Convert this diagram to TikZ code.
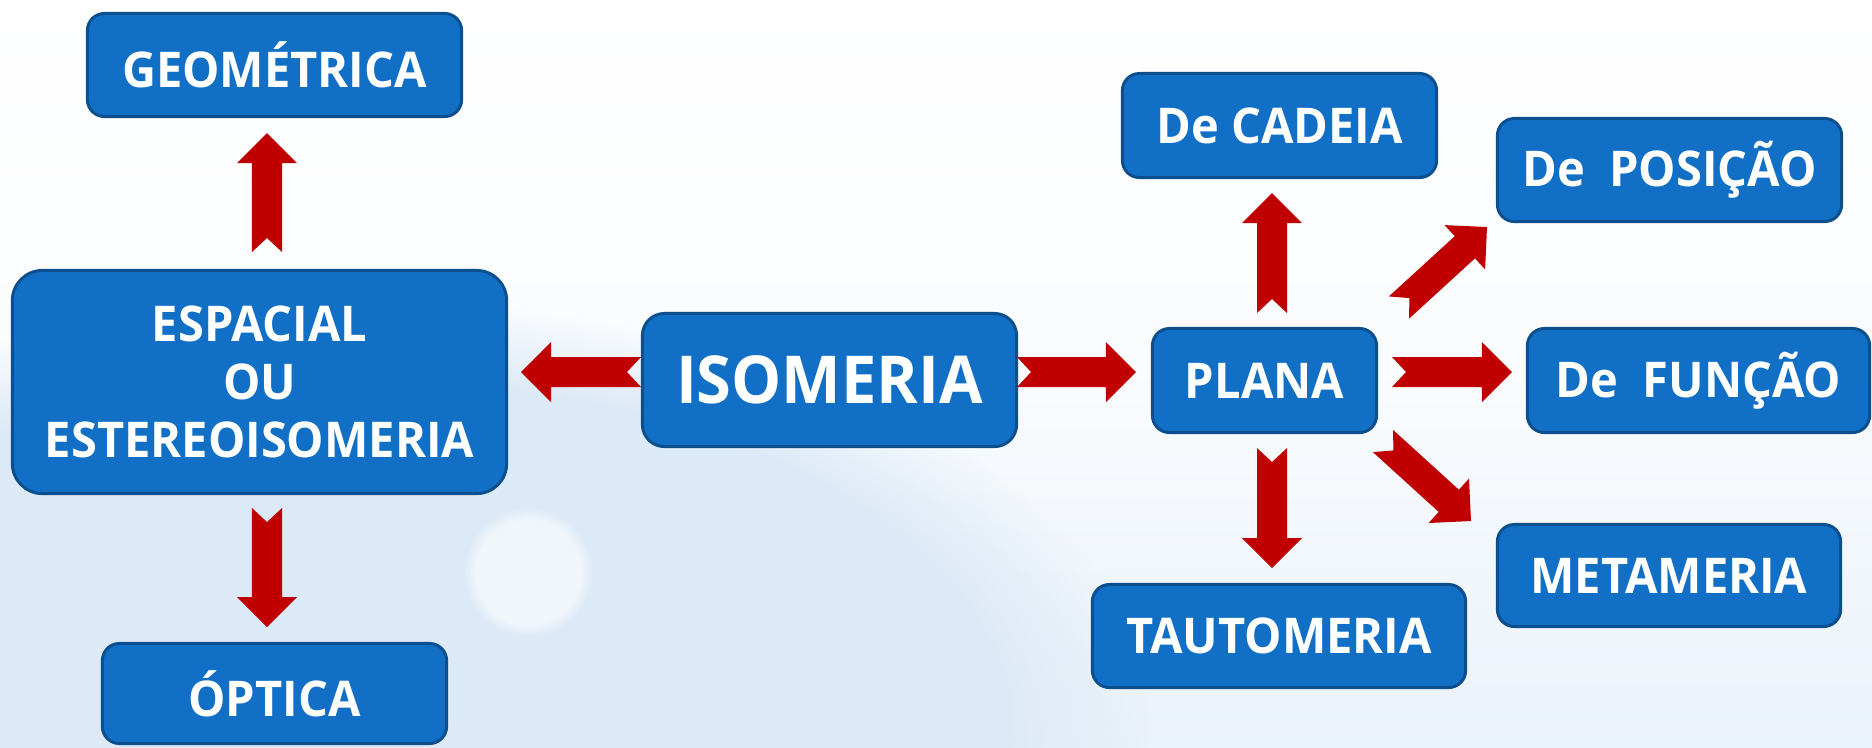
\documentclass[tikz,border=0pt]{standalone}
\usepackage{fontspec}
\setmainfont{Open Sans}[FakeStretch=0.955]
\usetikzlibrary{calc,fadings}
\definecolor{boxfill}{HTML}{1170C6}
\definecolor{boxline}{HTML}{0C4F8E}
\definecolor{arrowred}{HTML}{C00000}
\definecolor{bgblue}{HTML}{DCE9F6}
\tikzset{
  box/.style={draw=boxline, fill=boxfill, line width=0.03cm, rounded corners=0.17cm,
    text=white, font=\fontsize{14}{16.6}\selectfont\bfseries, align=center, inner sep=0pt},
  bigtext/.style={font=\fontsize{18.8}{21}\selectfont\bfseries},
}
% notched block arrow from tail coordinate #1 to tip coordinate #2
\newcommand\notcharr[2]{%
  \coordinate (nh) at ($(#2)!0.30cm!(#1)$);
  \fill[arrowred] ($(#1)!0.15cm!90:(#2)$) -- ($(nh)!0.15cm!90:(#2)$)
    -- ($(nh)!0.30cm!90:(#2)$) -- (#2) -- ($(nh)!0.30cm!-90:(#2)$)
    -- ($(nh)!0.15cm!-90:(#2)$) -- ($(#1)!0.15cm!-90:(#2)$)
    -- ($(#1)!0.14cm!(#2)$) -- cycle;}
\begin{document}
\begin{tikzpicture}[x=0.01cm,y=-0.01cm]
\useasboundingbox (0,0) rectangle (1872,747);
\shade[top color=white, bottom color=bgblue!60, middle color=white!85!bgblue] (0,0) rectangle (1872,747);
\fill[bgblue, path fading=circle with fuzzy edge 20 percent] (350,720) ellipse (800 and 420);
\fill[white, opacity=0.6, path fading=circle with fuzzy edge 20 percent] (528,572) circle (65);

% arrow end points
\coordinate (gA) at (267,252);  \coordinate (gB) at (267,133);
\coordinate (oA) at (267,508);  \coordinate (oB) at (267,627);
\coordinate (lA) at (641,372);  \coordinate (lB) at (521,372);
\coordinate (rA) at (1017,372); \coordinate (rB) at (1136,372);
\coordinate (cA) at (1272,313); \coordinate (cB) at (1272,193);
\coordinate (tA) at (1272,448); \coordinate (tB) at (1272,568);
\coordinate (fA) at (1392,372); \coordinate (fB) at (1512,372);
\coordinate (pA) at (1399,307.5); \coordinate (pB) at (1487,227);
\coordinate (mA) at (1383,441); \coordinate (mB) at (1471,521);

\notcharr{gA}{gB}
\notcharr{oA}{oB}
\notcharr{lA}{lB}
\notcharr{rA}{rB}
\notcharr{cA}{cB}
\notcharr{tA}{tB}
\notcharr{fA}{fB}
\notcharr{pA}{pB}
\notcharr{mA}{mB}

% boxes
\node[box, minimum width=3.74cm, minimum height=1.03cm] (geom) at (274.5,65) {GEOMÉTRICA};
\node[box, rounded corners=0.3cm, minimum width=4.94cm, minimum height=2.23cm] (esp) at (259.5,382)
  {ESPACIAL\\OU\\ESTEREOISOMERIA};
\node[box, minimum width=3.44cm, minimum height=1.00cm] (opt) at (274.5,693.5) {ÓPTICA};
\node[box, bigtext, rounded corners=0.22cm, minimum width=3.74cm, minimum height=1.33cm] (iso) at (829.5,380) {ISOMERIA};
\node[box, minimum width=2.24cm, minimum height=1.04cm] (plana) at (1264.5,380.5) {PLANA};
\node[box, minimum width=3.14cm, minimum height=1.04cm] (cad) at (1279.5,125.5) {De CADEIA};
\node[box, minimum width=3.73cm, minimum height=1.03cm] (tau) at (1279,636) {TAUTOMERIA};
\node[box, minimum width=3.44cm, minimum height=1.03cm] (pos) at (1669.5,170) {De\ \ POSIÇÃO};
\node[box, minimum width=3.42cm, minimum height=1.04cm] (fun) at (1698.5,380.5) {De\ \ FUNÇÃO};
\node[box, minimum width=3.43cm, minimum height=1.02cm] (meta) at (1669,575.5) {METAMERIA};
\end{tikzpicture}
\end{document}
